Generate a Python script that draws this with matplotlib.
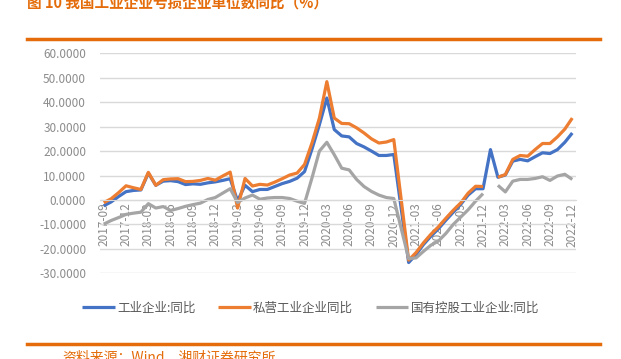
import numpy as np
import pandas as pd
import matplotlib
matplotlib.use("Agg")
import matplotlib.pyplot as plt
from matplotlib.ticker import FuncFormatter

plt.rcParams['font.family'] = ['Noto Sans CJK SC', 'DejaVu Sans']

months = [p.strftime("%Y-%m") for p in pd.period_range("2017-09", "2022-12", freq="M")]

nan = np.nan
industry = [-2.4, -0.8, 1.4, 3.4, 3.9, 4.1, 11.0, 6.0, 7.7, 7.9,
            7.5, 6.3, 6.6, 6.4, 7.0, 7.4, 8.0, 8.7, -0.4, 6.0,
            3.4, 4.3, 4.3, 5.5, 6.7, 7.6, 8.9, 11.6, 20.8, 30.8,
            41.7, 28.8, 26.2, 25.8, 23.1, 21.7, 20.0, 18.2, 18.2, 18.6,
            -3.6, -25.6, -22.3, -18.2, -14.8, -11.8, -8.3, -5.0, -1.8, 2.0,
            4.6, 4.6, 20.6, 9.3, 10.2, 15.9, 16.6, 16.0, 17.7, 19.3,
            19.0, 20.6, 23.6, 27.4]
private = [-1.1, 0.5, 3.0, 5.8, 5.0, 4.3, 11.3, 6.0, 8.3, 8.6,
           8.7, 7.5, 7.6, 8.0, 8.8, 8.1, 9.8, 11.4, -3.3, 8.8,
           5.7, 6.4, 6.1, 7.3, 8.7, 10.2, 11.0, 14.5, 23.3, 33.5,
           48.4, 33.5, 31.3, 31.2, 29.5, 27.4, 25.0, 23.3, 23.7, 24.7,
           0.1, -24.6, -21.5, -17.5, -14.0, -11.0, -7.5, -4.2, -1.2, 2.8,
           5.6, 5.5, nan, 9.3, 10.4, 16.6, 18.2, 17.9, 20.6, 23.1,
           23.1, 25.8, 29.0, 33.5]
state = [-9.9, -8.4, -7.2, -5.9, -5.4, -5.0, -1.5, -3.3, -2.7, -4.3,
         -3.5, -2.6, -1.9, -1.3, 0.2, 1.0, 2.8, 4.6, -1.0, 0.8,
         2.0, 0.3, 0.8, 1.0, 1.0, 0.6, -0.5, -1.4, 9.0, 20.0,
         23.6, 18.5, 13.0, 12.3, 8.4, 5.5, 3.5, 2.0, 1.0, 0.6,
         -11.7, -24.0, -23.7, -21.0, -18.5, -16.8, -13.7, -10.0, -7.0, -4.0,
         -0.5, 2.6, nan, 6.0, 3.3, 7.7, 8.4, 8.4, 8.8, 9.5,
         8.0, 9.8, 10.5, 8.4]

series_names = ["工业企业:同比", "私营工业企业同比", "国有控股工业企业:同比"]
colors = ["#4472C4", "#ED7D31", "#A5A5A5"]
title = "图 10 我国工业企业亏损企业单位数同比（%）"
source = "资料来源：Wind，湘财证券研究所"

W, H = 621, 359
fig = plt.figure(figsize=(W / 100, H / 100), dpi=100)
ax = fig.add_axes([100 / W, 1 - 273.3 / H, 476 / W, 220 / H])

x = np.arange(len(months))
for vals, name, c in zip([industry, private, state], series_names, colors):
    ax.plot(x, vals, color=c, lw=2.3, label=name, solid_capstyle="butt")

ax.set_xlim(-0.5, len(months) - 0.5)
ax.set_ylim(-30, 60)
ax.set_yticks(np.arange(-30, 61, 10))
ax.yaxis.set_major_formatter(FuncFormatter(lambda v, p: f"{v:.4f}"))
ax.grid(axis="y", color="#D9D9D9", lw=1)
ax.set_axisbelow(True)
for s in ["top", "right", "left"]:
    ax.spines[s].set_visible(False)
ax.spines["bottom"].set_position(("data", 0))
ax.spines["bottom"].set_color("#D9D9D9")

ax.set_xticks(x[::3])
ax.set_xticklabels(months[::3], rotation=90)
ax.tick_params(axis="x", length=0, pad=2, labelsize=8.5, labelcolor="#8C8C8C")
ax.tick_params(axis="y", length=0, pad=10, labelsize=8.5, labelcolor="#8C8C8C")

fig.legend(loc="center", bbox_to_anchor=(0.5, 1 - 308 / H), ncol=3, frameon=False,
           fontsize=9, handlelength=2.6, handletextpad=0.2, columnspacing=1.8,
           labelcolor="#595959")

fig.text(27 / W, 1 - 4 / H, title, color="#E46C0A", fontsize=10.5,
         fontweight="bold", ha="left", va="center")
fig.add_artist(plt.Line2D([27 / W, 600 / W], [1 - 39 / H] * 2, color="#E46C0A", lw=2.5))
fig.add_artist(plt.Line2D([27 / W, 600 / W], [1 - 344 / H] * 2, color="#E46C0A", lw=2.5))
fig.text(62 / W, 1 - 350 / H, source, color="#E46C0A", fontsize=10, ha="left", va="top")

fig.savefig("out.png", dpi=100)
